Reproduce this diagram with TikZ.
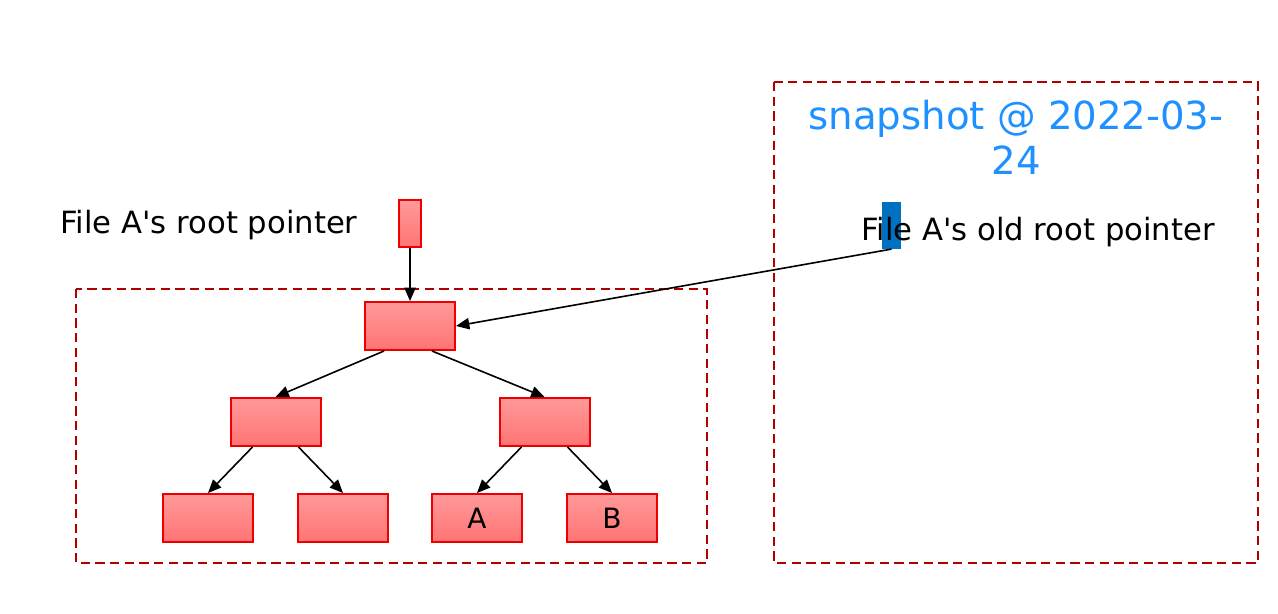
\documentclass[tikz,border=0pt]{standalone}
\usepackage{fontspec}
\setmainfont{DejaVu Sans}
\usetikzlibrary{arrows.meta,calc}
\definecolor{boxred}{HTML}{EE0000}
\definecolor{topred}{HTML}{FF9999}
\definecolor{botred}{HTML}{FF7474}
\definecolor{dashred}{HTML}{B00000}
\definecolor{ptrblue}{HTML}{0070C0}
\definecolor{snapblue}{HTML}{1E90FF}
\tikzset{
  blk/.style={draw=boxred, line width=1.5pt, top color=topred, bottom color=botred,
    minimum width=67.5pt, minimum height=36pt, inner sep=0pt, font=\fontsize{21}{24}\selectfont},
  ptr/.style={blk, minimum width=16.5pt, minimum height=35pt},
  arr/.style={line width=1.2pt, -{Triangle[length=10pt,width=8.5pt]}},
  frame/.style={draw=dashred, line width=1.3pt, dash pattern=on 7pt off 4pt},
  lbl/.style={font=\fontsize{23}{27}\selectfont, inner sep=0pt},
}
\begin{document}
\begin{tikzpicture}[x=0.75pt,y=-0.75pt]
\useasboundingbox (0,0) rectangle (1278,614);
\draw[frame] (76,289) rectangle (707,563);
\draw[frame] (774,82) rectangle (1258,563);

\node[ptr] (p) at (410,223.5) {};
\node[blk] (r) at (410,326) {};
\node[blk] (l) at (275.5,422) {};
\node[blk] (m) at (544.5,422) {};
\node[blk] (l1) at (208,518) {};
\node[blk] (l2) at (343,518) {};
\node[blk] (a) at (477,518) {A};
\node[blk] (b) at (612,518) {B};

\node[fill=ptrblue, minimum width=14.5pt, minimum height=35pt, inner sep=0pt] (bp) at (891.5,225.5) {};
\node[lbl] (t1) at (209,225) {File A\textquotesingle s root pointer};
\node[lbl, anchor=base] (t2) at (1038,240) {File A\textquotesingle s old root pointer};
\node[font=\fontsize{29}{34}\selectfont, text=snapblue, align=center, inner sep=0pt] (snap) at (1016,137) {snapshot @ 2022-03-\\24};

\draw[arr] (p.south) -- (r.north);
\draw[arr] (bp.south) -- (r.east);
\draw[arr] ($(r.south)+(-26,0)$) -- (l.north);
\draw[arr] ($(r.south)+(22,0)$) -- (m.north);
\draw[arr] ($(l.south)+(-23,0)$) -- (l1.north);
\draw[arr] ($(l.south)+(23,0)$) -- (l2.north);
\draw[arr] ($(m.south)+(-23,0)$) -- (a.north);
\draw[arr] ($(m.south)+(23,0)$) -- (b.north);
\end{tikzpicture}
\end{document}
